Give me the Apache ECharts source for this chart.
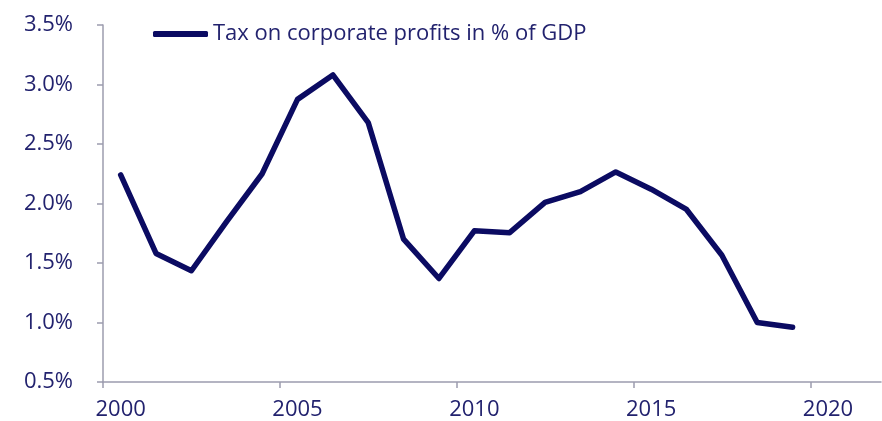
<!DOCTYPE html>
<html>
<head>
<meta charset="utf-8">
<script src="https://cdn.jsdelivr.net/npm/echarts@6/dist/echarts.min.js"></script>
<style>html,body{margin:0;padding:0;background:#fff}#c{width:882px;height:421px}</style>
</head>
<body>
<div id="c"></div>
<script>
const seriesName = 'Tax on corporate profits in % of GDP';
const years = [2000.5, 2001.5, 2002.5, 2003.5, 2004.5, 2005.5, 2006.5, 2007.5, 2008.5, 2009.5,
               2010.5, 2011.5, 2012.5, 2013.5, 2014.5, 2015.5, 2016.5, 2017.5, 2018.5, 2019.5];
const values = [2.24, 1.58, 1.435, 1.85, 2.25, 2.875, 3.08, 2.68, 1.70, 1.37,
                1.77, 1.755, 2.01, 2.10, 2.265, 2.12, 1.95, 1.565, 1.00, 0.96];
const xTicks = [2000, 2005, 2010, 2015, 2020];
const xLabelPos = [2000.5, 2005.5, 2010.5, 2015.5, 2020.5];

const navy = '#0b0b62';
const labelColor = '#22226e';
const axisGray = '#9c9cae';
const font = 'Open Sans';

const chart = echarts.init(document.getElementById('c'), null, {renderer: 'canvas'});
chart.setOption({
  animation: false,
  backgroundColor: '#fff',
  textStyle: {fontFamily: font},
  grid: {left: 103, right: 1, top: 25, bottom: 39, containLabel: false},
  legend: {
    left: 148, top: 18,
    itemWidth: 55, itemHeight: 6, itemGap: 10,
    textStyle: {color: labelColor, fontSize: 22, fontFamily: font},
    data: [{name: seriesName, icon: 'roundRect', itemStyle: {color: navy}}]
  },
  xAxis: {
    type: 'value', min: 2000, max: 2022,
    axisLine: {show: true, lineStyle: {color: axisGray, width: 1.5}},
    axisTick: {show: true, length: 6, lineStyle: {color: axisGray, width: 1.5}, customValues: xTicks},
    axisLabel: {color: labelColor, fontSize: 22, margin: 17, customValues: xLabelPos,
                formatter: v => String(Math.floor(v))},
    splitLine: {show: false}
  },
  yAxis: {
    type: 'value', min: 0.5, max: 3.5, interval: 0.5,
    axisLine: {show: true, lineStyle: {color: axisGray, width: 1.5}},
    axisTick: {show: true, length: 6, lineStyle: {color: axisGray, width: 1.5}},
    axisLabel: {color: labelColor, fontSize: 22, margin: 30, formatter: v => v.toFixed(1) + '%'},
    splitLine: {show: false}
  },
  series: [{
    name: seriesName,
    type: 'line',
    data: years.map((y, i) => [y, values[i]]),
    symbol: 'none',
    lineStyle: {color: navy, width: 5.5, join: 'round', cap: 'round'},
    itemStyle: {color: navy}
  }]
});
</script>
</body>
</html>
